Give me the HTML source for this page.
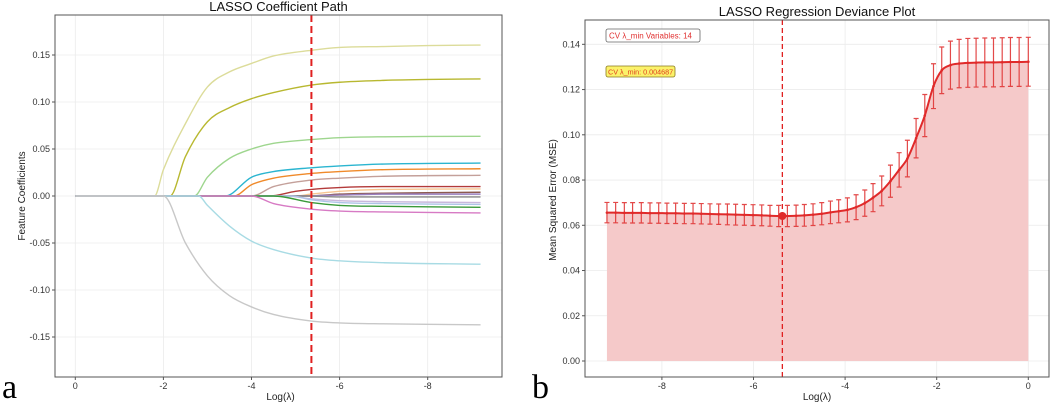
<!DOCTYPE html>
<html><head><meta charset="utf-8">
<style>
html,body{margin:0;padding:0;background:#fff;}
svg{display:block;font-family:"Liberation Sans",sans-serif;}
</style></head>
<body>
<svg id="root" width="1052" height="405" viewBox="0 0 1052 405" xmlns="http://www.w3.org/2000/svg">
<g id="left"></g>
<g id="right"></g>
<text x="2" y="398" font-family="Liberation Serif,serif" font-size="34">a</text>
<text x="532" y="398" font-family="Liberation Serif,serif" font-size="34">b</text>
</svg>
<script>
// ---------- Data: coefficient paths ----------
const coefXTicks = [0,-2,-4,-6,-8];
const coefYTicks = [0.15,0.10,0.05,0.00,-0.05,-0.10,-0.15];
const coefYTickLabels = ["0.15","0.10","0.05","0.00","-0.05","-0.10","-0.15"];
const lambdaMin = -5.36;
const coefNames = ["f1","f2","f3","f4","f5","f6","f7","f8","f9","f10","f11","f12","f13","f14","f15","f16","f17"];
const coefColors = ["#dcdc9a","#b8b830","#9ed68e","#2bb5d0","#f08a2a","#c4a09a","#b33a3a","#f7c692","#8c5a50","#9a80c0","#888888","#c9b8dc","#aec4e6","#3a9a3a","#d77ac4","#a8dbe4","#c8c8c8"];
const coefLx = [
 [0,-1.8,-2,-2.5,-3,-3.5,-4,-4.5,-5.36,-6,-7,-8,-9.2],
 [0,-2.15,-2.5,-3,-3.5,-4,-4.5,-5.36,-6,-7,-8,-9.2],
 [0,-2.7,-3,-3.5,-4,-4.5,-5.36,-6,-7,-9.2],
 [0,-3.4,-4,-4.5,-5.36,-6,-7,-9.2],
 [0,-3.6,-4,-4.5,-5.36,-6,-7,-9.2],
 [0,-4.0,-4.5,-5.36,-6,-7,-9.2],
 [0,-4.4,-5,-5.36,-6,-7,-9.2],
 [0,-5.0,-5.36,-6,-7,-9.2],
 [0,-5.3,-6,-7,-9.2],
 [0,-5.0,-6,-7,-9.2],
 [0,-5.2,-6,-7,-9.2],
 [0,-4.8,-5.36,-6,-7,-9.2],
 [0,-4.9,-5.36,-6,-7,-9.2],
 [0,-4.5,-5.36,-6,-7,-9.2],
 [0,-4.0,-4.5,-5.36,-6,-7,-9.2],
 [0,-2.8,-3,-3.5,-4,-4.5,-5.36,-6,-7,-9.2],
 [0,-2.0,-2.5,-3,-3.5,-4,-4.5,-5.36,-6,-7,-9.2]
];
const coefVals = [
 [0,0,0.028,0.077,0.116,0.132,0.141,0.149,0.155,0.158,0.159,0.160,0.1606],
 [0,0,0.042,0.079,0.094,0.1035,0.110,0.118,0.121,0.123,0.124,0.1245],
 [0,0,0.020,0.040,0.050,0.056,0.060,0.062,0.063,0.0635],
 [0,0,0.020,0.026,0.030,0.032,0.034,0.035],
 [0,0,0.012,0.019,0.024,0.026,0.028,0.029],
 [0,0,0.010,0.017,0.019,0.021,0.022],
 [0,0,0.005,0.007,0.009,0.010,0.010],
 [0,0,0.002,0.005,0.007,0.0075],
 [0,0,0.002,0.003,0.004],
 [0,0,0.001,0.002,0.002],
 [0,0,-0.001,-0.001,-0.001],
 [0,0,-0.003,-0.005,-0.006,-0.007],
 [0,0,-0.004,-0.007,-0.008,-0.009],
 [0,0,-0.007,-0.010,-0.011,-0.012],
 [0,0,-0.008,-0.014,-0.016,-0.017,-0.018],
 [0,0,-0.010,-0.032,-0.048,-0.057,-0.066,-0.069,-0.071,-0.0725],
 [0,0,-0.050,-0.085,-0.106,-0.118,-0.126,-0.133,-0.135,-0.136,-0.137]
];

// ---------- Data: CV deviance ----------
const cvXTicks = [-8,-6,-4,-2,0];
const cvYTicks = [0,0.02,0.04,0.06,0.08,0.10,0.12,0.14];
const cvYTickLabels = ["0.00","0.02","0.04","0.06","0.08","0.10","0.12","0.14"];
const cvLambdaMin = -5.37;
const cvMinMse = 0.0641;
const cvLogLambda = [-9.2,-9.01,-8.82,-8.64,-8.45,-8.26,-8.07,-7.89,-7.70,-7.51,-7.32,-7.14,-6.95,-6.76,-6.57,-6.39,-6.20,-6.01,-5.82,-5.64,-5.45,-5.26,-5.07,-4.89,-4.70,-4.51,-4.32,-4.14,-3.95,-3.76,-3.57,-3.39,-3.20,-3.01,-2.82,-2.64,-2.45,-2.26,-2.07,-1.89,-1.70,-1.51,-1.32,-1.14,-0.95,-0.76,-0.57,-0.39,-0.20,0];
const cvMse = [0.0656,0.0656,0.0655,0.0655,0.0655,0.0654,0.0654,0.0653,0.0653,0.0652,0.0652,0.0651,0.0650,0.0649,0.0648,0.0647,0.0646,0.0645,0.0644,0.0642,0.0641,0.0641,0.0642,0.0644,0.0647,0.0651,0.0657,0.0662,0.0668,0.0680,0.0698,0.0722,0.0752,0.0795,0.0845,0.0895,0.0985,0.1085,0.1215,0.1285,0.1308,0.1315,0.1318,0.1319,0.1320,0.1320,0.1321,0.1322,0.1322,0.1323];
const cvSe = [0.0045,0.0045,0.0045,0.0045,0.0045,0.0045,0.0045,0.0045,0.0045,0.0045,0.0045,0.0045,0.0045,0.0045,0.0046,0.0046,0.0046,0.0046,0.0046,0.0046,0.0047,0.0047,0.0047,0.0048,0.0048,0.0049,0.0050,0.0051,0.0053,0.0055,0.0058,0.0062,0.0066,0.0071,0.0076,0.0081,0.0087,0.0093,0.0099,0.0103,0.0106,0.0107,0.0108,0.0108,0.0108,0.0108,0.0108,0.0108,0.0108,0.0108];

const NS = "http://www.w3.org/2000/svg";
function mk(parent, tag, attrs, text){
  const e = document.createElementNS(NS, tag);
  for (const k in attrs) e.setAttribute(k, attrs[k]);
  if (text !== undefined) e.textContent = text;
  parent.appendChild(e);
  return e;
}
// monotone cubic path through pixel points (x increasing)
function monoPath(px, py){
  const n = px.length;
  if (n < 3) return px.map((x,i)=>(i?'L':'M')+x+','+py[i]).join(' ');
  const d = [], m = [];
  for (let i=0;i<n-1;i++) d.push((py[i+1]-py[i])/(px[i+1]-px[i]));
  m.push(d[0]);
  for (let i=1;i<n-1;i++) m.push(d[i-1]*d[i] <= 0 ? 0 : (d[i-1]+d[i])/2);
  m.push(d[n-2]);
  for (let i=0;i<n-1;i++){
    if (d[i] === 0){ m[i]=0; m[i+1]=0; continue; }
    const a = m[i]/d[i], b = m[i+1]/d[i], s = a*a+b*b;
    if (s > 9){ const t = 3/Math.sqrt(s); m[i]=t*a*d[i]; m[i+1]=t*b*d[i]; }
  }
  let p = 'M'+px[0].toFixed(2)+','+py[0].toFixed(2);
  for (let i=0;i<n-1;i++){
    const h = (px[i+1]-px[i])/3;
    p += ' C'+(px[i]+h).toFixed(2)+','+(py[i]+m[i]*h).toFixed(2)+' '+(px[i+1]-h).toFixed(2)+','+(py[i+1]-m[i+1]*h).toFixed(2)+' '+px[i+1].toFixed(2)+','+py[i+1].toFixed(2);
  }
  return p;
}

// ---------- Left panel ----------
(function(){
  const g = document.getElementById('left');
  const L = 55, R = 502, T = 15, B = 377;
  const x = v => 75.3 + (-v) * 44.05;
  const y = v => 196 - v / 0.05 * 47.0;
  const title = mk(g,'text',{x:(L+R)/2,y:11,'text-anchor':'middle','font-size':13,fill:'#111'},'LASSO Coefficient Path');
  
  
  coefXTicks.forEach(t=>{
    const l = mk(g,'line',{x1:x(t),x2:x(t),y1:T,y2:B,stroke:'#ebebeb','stroke-width':0.8});
    
    
  });
  coefYTicks.forEach(t=>{
    const l = mk(g,'line',{x1:L,x2:R,y1:y(t),y2:y(t),stroke:'#ebebeb','stroke-width':0.8});
    
    
  });
  coefNames.forEach((n,i)=>{
    const d = monoPath(coefLx[i].map(x), coefVals[i].map(y));
    const p = mk(g,'path',{d:d,fill:'none',stroke:coefColors[i],'stroke-width':1.4,'stroke-linejoin':'round'});
    
    
  });
  const vl = mk(g,'line',{x1:x(lambdaMin),x2:x(lambdaMin),y1:T,y2:B,stroke:'#e02020','stroke-width':2,'stroke-dasharray':'7,4'});
  
  
  const fr = mk(g,'rect',{x:L,y:T,width:R-L,height:B-T,fill:'none',stroke:'#555','stroke-width':1});
  
  
  coefXTicks.forEach(t=>{
    mk(g,'line',{x1:x(t),x2:x(t),y1:B,y2:B+3,stroke:'#555'});
    const tx = mk(g,'text',{x:x(t),y:B+12,'text-anchor':'middle','font-size':9,fill:'#333'},t===0?'0':String(t));
    
    
  });
  coefYTicks.forEach((t,i)=>{
    mk(g,'line',{x1:L-3,x2:L,y1:y(t),y2:y(t),stroke:'#555'});
    const tx = mk(g,'text',{x:L-5,y:y(t)+3,'text-anchor':'end','font-size':9,fill:'#333'},coefYTickLabels[i]);
    
    
  });
  const xt = mk(g,'text',{x:(L+R)/2+2,y:400,'text-anchor':'middle','font-size':10,fill:'#222'},'Log(λ)');
  
  
  const yt = mk(g,'text',{x:0,y:0,transform:'translate(25,196) rotate(-90)','text-anchor':'middle','font-size':10,fill:'#222'},'Feature Coefficients');
  
  
})();

// ---------- Right panel ----------
(function(){
  const g = document.getElementById('right');
  const L = 585, R = 1049, T = 20, B = 377;
  const x = v => 1028.3 + v * 45.8;
  const y = v => 361 - v / 0.02 * 45.24;
  const title = mk(g,'text',{x:(L+R)/2,y:16,'text-anchor':'middle','font-size':13,fill:'#111'},'LASSO Regression Deviance Plot');
  
  
  cvXTicks.forEach(t=>{
    const l = mk(g,'line',{x1:x(t),x2:x(t),y1:T,y2:B,stroke:'#ebebeb','stroke-width':0.8});
    
    
  });
  cvYTicks.forEach(t=>{
    const l = mk(g,'line',{x1:L,x2:R,y1:y(t),y2:y(t),stroke:'#ebebeb','stroke-width':0.8});
    
    
  });
  const px = cvLogLambda.map(x), py = cvMse.map(y);
  const curve = monoPath(px, py);
  const ad = 'M'+px[0]+','+y(0)+' L'+curve.slice(1)+' L'+px[px.length-1]+','+y(0)+' Z';
  const area = mk(g,'path',{d:ad,fill:'#f5c9c9',stroke:'none'});
  
  
  cvLogLambda.forEach((lx,i)=>{
    const cx = x(lx), y1 = y(cvMse[i]+cvSe[i]), y2 = y(cvMse[i]-cvSe[i]);
    const eb = mk(g,'path',{d:`M${cx},${y1} L${cx},${y2} M${cx-2.5},${y1} L${cx+2.5},${y1} M${cx-2.5},${y2} L${cx+2.5},${y2}`,stroke:'#e03535','stroke-width':1.2,fill:'none',opacity:0.9});
    
    
  });
  const line = mk(g,'path',{d:curve,fill:'none',stroke:'#e02a2a','stroke-width':2});
  
  
  cvLogLambda.forEach((lx,i)=>{
    const c = mk(g,'circle',{cx:x(lx),cy:y(cvMse[i]),r:1.3,fill:'#e02a2a'});
    
    
  });
  const vl = mk(g,'line',{x1:x(cvLambdaMin),x2:x(cvLambdaMin),y1:T,y2:B,stroke:'#e02020','stroke-width':1.3,'stroke-dasharray':'5,3'});
  
  
  const mp = mk(g,'circle',{cx:x(cvLambdaMin),cy:y(cvMinMse),r:4,fill:'#e02a2a'});
  
  
  const a1 = mk(g,'rect',{x:606,y:29,width:94,height:13,rx:2,fill:'#fff',stroke:'#666','stroke-width':0.8});
  
  
  const t1 = mk(g,'text',{x:609,y:38.5,'font-size':8,fill:'#e03030'},'CV λ_min Variables: 14');
  
  
  const a2 = mk(g,'rect',{x:606,y:66,width:69,height:11,rx:2,fill:'#fbf26a',stroke:'#8a7a20','stroke-width':0.8});
  
  
  const t2 = mk(g,'text',{x:608,y:74.5,'font-size':7.2,fill:'#e04020'},'CV λ_min: 0.004687');
  
  
  const fr = mk(g,'rect',{x:L,y:T,width:R-L,height:B-T,fill:'none',stroke:'#555','stroke-width':1});
  
  
  cvXTicks.forEach(t=>{
    mk(g,'line',{x1:x(t),x2:x(t),y1:B,y2:B+3,stroke:'#555'});
    const tx = mk(g,'text',{x:x(t),y:B+12,'text-anchor':'middle','font-size':9,fill:'#333'},String(t));
    
    
  });
  cvYTicks.forEach((t,i)=>{
    mk(g,'line',{x1:L-3,x2:L,y1:y(t),y2:y(t),stroke:'#555'});
    const tx = mk(g,'text',{x:L-5,y:y(t)+3,'text-anchor':'end','font-size':9,fill:'#333'},cvYTickLabels[i]);
    
    
  });
  const xt = mk(g,'text',{x:(L+R)/2,y:400,'text-anchor':'middle','font-size':10,fill:'#222'},'Log(λ)');
  
  
  const yt = mk(g,'text',{x:0,y:0,transform:'translate(556,200) rotate(-90)','text-anchor':'middle','font-size':10,fill:'#222'},'Mean Squared Error (MSE)');
  
  
})();
</script>
</body></html>
